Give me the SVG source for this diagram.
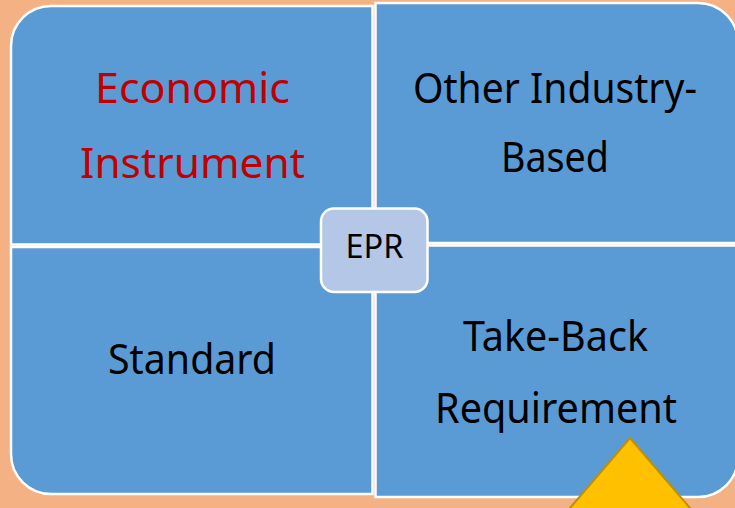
<svg xmlns="http://www.w3.org/2000/svg" width="735" height="508" viewBox="0 0 735 508">
  <style>
    .quad { fill: #5B9BD5; stroke: #FFFFFF; stroke-width: 2.5; }
    .lbl { font-family: "Noto Sans", "Open Sans", "DejaVu Sans", sans-serif; font-size: 41px; text-anchor: middle; fill: #000000; }
    .red { fill: #C00000; }
    .center { fill: #B4C7E7; stroke: #FFFFFF; stroke-width: 2.5; }
    .epr { font-family: "Noto Sans", "Open Sans", "DejaVu Sans", sans-serif; font-size: 32.5px; text-anchor: middle; fill: #000000; }
  </style>
  <rect x="0" y="0" width="735" height="508" fill="#F4B183"/>
  <g id="connectors"></g>
  <g id="node-economic">
    <path class="quad" d="M11,46 A40,40 0 0 1 51,6 H372.5 V244.5 H11 Z"/>
    <text class="lbl red" x="192.5" y="103" textLength="195" lengthAdjust="spacingAndGlyphs">Economic</text>
    <text class="lbl red" x="192.5" y="178" textLength="225" lengthAdjust="spacingAndGlyphs">Instrument</text>
  </g>
  <g id="node-other">
    <path class="quad" d="M375.5,3 H698 A40,40 0 0 1 738,43 V243 H375.5 Z"/>
    <text class="lbl" x="555" y="103" textLength="284" lengthAdjust="spacingAndGlyphs">Other Industry-</text>
    <text class="lbl" x="555" y="172" textLength="108" lengthAdjust="spacingAndGlyphs">Based</text>
  </g>
  <g id="node-standard">
    <path class="quad" d="M11,247 H372.5 V494 H51 A40,40 0 0 1 11,454 Z"/>
    <text class="lbl" x="192" y="374" textLength="168" lengthAdjust="spacingAndGlyphs">Standard</text>
  </g>
  <g id="node-takeback">
    <path class="quad" d="M375.5,245.5 H738 V457 A40,40 0 0 1 698,497 H375.5 Z"/>
    <text class="lbl" x="555.5" y="351" textLength="185" lengthAdjust="spacingAndGlyphs">Take-Back</text>
    <text class="lbl" x="556" y="423" textLength="242" lengthAdjust="spacingAndGlyphs">Requirement</text>
  </g>
  <g id="node-epr">
    <rect class="center" x="321" y="208.5" width="106.5" height="83.5" rx="13" ry="13"/>
    <text class="epr" x="374.5" y="258" textLength="58" lengthAdjust="spacingAndGlyphs">EPR</text>
  </g>
  <g id="triangle">
    <polygon points="630,438 559.7,520 700.3,520" fill="#FFC000" stroke="#BF9000" stroke-width="2"/>
  </g>
</svg>
